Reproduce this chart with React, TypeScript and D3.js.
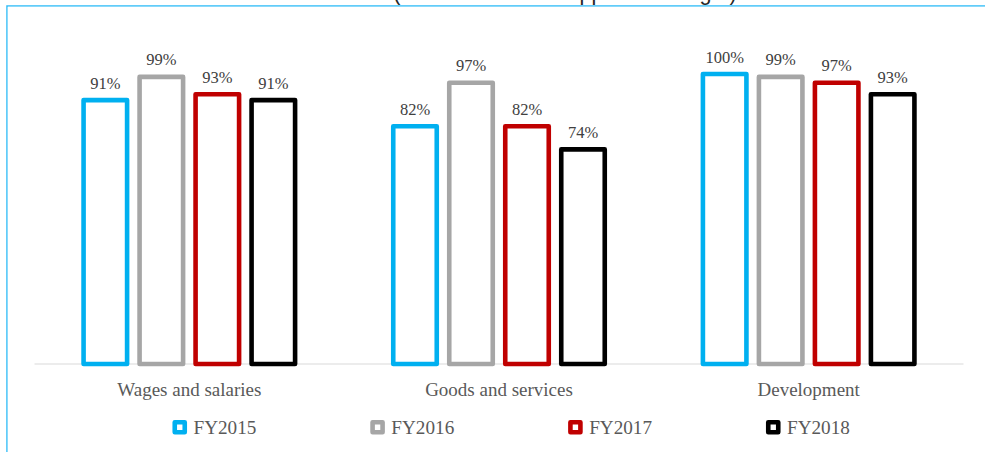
import React from "react";
import * as d3 from "d3";

const categories = ["Wages and salaries", "Goods and services", "Development"];
const seriesNames = ["FY2015", "FY2016", "FY2017", "FY2018"];
const seriesColors = ["#00b0f0", "#a6a6a6", "#c00000", "#000000"];
const valuesFY2015 = [0.91, 0.82, 1.0];
const valuesFY2016 = [0.99, 0.97, 0.99];
const valuesFY2017 = [0.93, 0.82, 0.97];
const valuesFY2018 = [0.91, 0.74, 0.93];
const seriesValues = [valuesFY2015, valuesFY2016, valuesFY2017, valuesFY2018];
const titleText = "(as a % of annual approved budget)";

const W = 985;
const H = 452;

export default function App() {
  const x0 = d3.scaleBand<string>().domain(categories).range([34.5, 963.5]).padding(0);
  const groupW = 224;
  const p = 0.223;
  const x1 = d3
    .scaleBand<string>()
    .domain(seriesNames)
    .range([0, groupW])
    .paddingInner(p)
    .paddingOuter(p / 2);
  const y = d3.scaleLinear().domain([0, 1]).range([364, 74]);
  const fmt = d3.format(".0%");
  const strokeW = 4.6;

  const legendX = d3.scaleLinear().domain([0, 3]).range([172.5, 766]);

  return (
    <svg
      width={W}
      height={H}
      style={{ position: "absolute", left: 0, top: 0, background: "#fff" }}
    >
      <rect x={0} y={0} width={W} height={H} fill="#ffffff" />
      <text
        x={565}
        y={-0.5}
        textAnchor="middle"
        fontFamily="'Liberation Sans', Arial, sans-serif"
        fontSize={21.6}
        fill="#262626"
      >
        {titleText}
      </text>
      <rect x={7} y={6} width={1100} height={600} fill="none" stroke="#2fbcf7" strokeWidth={1.5} />
      <rect x={7.75} y={6.75} width={1100} height={600} fill="#ffffff" />

      <line x1={34.5} x2={963.5} y1={364} y2={364} stroke="#d9d9d9" strokeWidth={1.2} />

      {categories.map((cat, ci) => {
        const gx = (x0(cat) as number) + x0.bandwidth() / 2 - groupW / 2;
        return (
          <g key={cat}>
            {seriesNames.map((s, si) => {
              const v = seriesValues[si][ci];
              const bx = gx + (x1(s) as number);
              const bw = x1.bandwidth();
              return (
                <g key={s}>
                  <rect
                    x={bx}
                    y={y(v)}
                    width={bw}
                    height={y(0) - y(v)}
                    fill="#ffffff"
                    stroke={seriesColors[si]}
                    strokeWidth={strokeW}
                    strokeLinejoin="round"
                  />
                  <text
                    x={bx + bw / 2}
                    y={y(v) - 11.5}
                    textAnchor="middle"
                    fontFamily="'Liberation Serif', 'Times New Roman', serif"
                    fontSize={16.5}
                    fill="#404040"
                  >
                    {fmt(v)}
                  </text>
                </g>
              );
            })}
            <text
              x={(x0(cat) as number) + x0.bandwidth() / 2}
              y={396}
              textAnchor="middle"
              fontFamily="'Liberation Serif', 'Times New Roman', serif"
              fontSize={19}
              fill="#595959"
            >
              {cat}
            </text>
          </g>
        );
      })}

      {seriesNames.map((s, si) => {
        const lx = legendX(si);
        return (
          <g key={s}>
            <rect
              x={lx + 2.25}
              y={422.25}
              width={10}
              height={10}
              fill="#ffffff"
              stroke={seriesColors[si]}
              strokeWidth={strokeW}
              strokeLinejoin="round"
            />
            <text
              x={lx + 21}
              y={434}
              fontFamily="'Liberation Serif', 'Times New Roman', serif"
              fontSize={19.2}
              fill="#595959"
            >
              {s}
            </text>
          </g>
        );
      })}
    </svg>
  );
}
